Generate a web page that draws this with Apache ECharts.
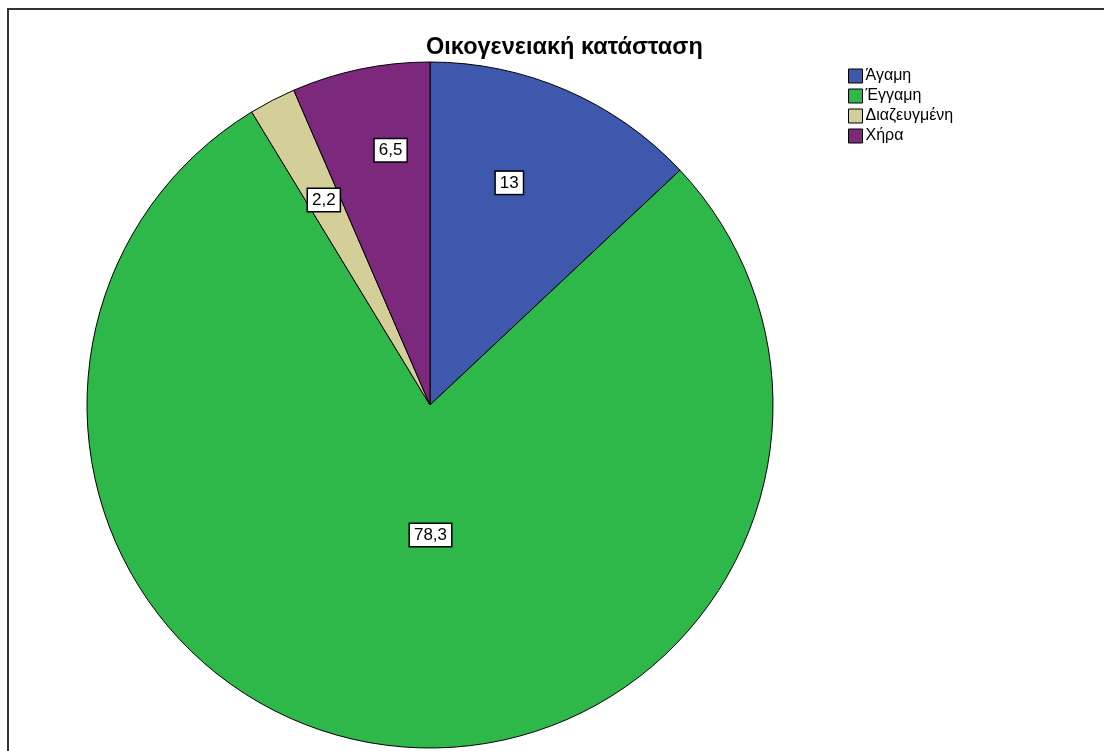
<!DOCTYPE html>
<html>
<head>
<meta charset="utf-8">
<script src="https://cdn.jsdelivr.net/npm/echarts@6/dist/echarts.min.js"></script>
<style>
html,body{margin:0;padding:0;background:#fff;}
#chart{width:1104px;height:751px;}
</style>
</head>
<body>
<div id="chart"></div>
<script>
const titleText = 'Οικογενειακή κατάσταση';
const categories = ['Άγαμη', 'Έγγαμη', 'Διαζευγμένη', 'Χήρα'];
const values = [13, 78.3, 2.2, 6.5];
const colors = ['#3D58AC', '#2EB84A', '#D4CF98', '#7B287D'];
// label offsets from the default inside position (layout only)
const labelOffsets = [[10, -62], [24, -43], [-26, -50], [-4, -84]];

const chart = echarts.init(document.getElementById('chart'), null, {renderer: 'canvas'});
const font = "'Liberation Sans', Arial, sans-serif";
chart.setOption({
  animation: false,
  backgroundColor: '#fff',
  title: {
    text: titleText,
    left: 421,
    top: 31,
    textStyle: {fontFamily: font, fontSize: 23.5, fontWeight: 'bold', color: '#000'}
  },
  legend: {
    orient: 'vertical',
    left: 843,
    top: 63,
    itemWidth: 14,
    itemHeight: 14,
    itemGap: 4,
    icon: 'rect',
    selectedMode: false,
    textStyle: {fontFamily: font, fontSize: 16, color: '#000', padding: [0, 0, 0, -2]},
    itemStyle: {borderColor: '#000', borderWidth: 1},
    data: categories
  },
  graphic: [{
    type: 'rect',
    shape: {x: 8, y: 9, width: 1200, height: 1000},
    style: {fill: 'none', stroke: '#333', lineWidth: 2},
    silent: true
  }],
  series: [{
    type: 'pie',
    center: [430, 405],
    radius: 343,
    startAngle: 90,
    clockwise: true,
    silent: true,
    emphasis: {disabled: true},
    itemStyle: {borderColor: '#000', borderWidth: 1},
    label: {
      show: true,
      position: 'inside',
      formatter: p => String(p.value).replace('.', ','),
      fontFamily: font,
      fontSize: 17,
      color: '#000',
      backgroundColor: '#fff',
      borderColor: '#000',
      borderWidth: 1.5,
      padding: [3, 4, 2, 4]
    },
    labelLine: {show: false},
    labelLayout: p => ({dx: labelOffsets[p.dataIndex][0], dy: labelOffsets[p.dataIndex][1]}),
    data: categories.map((c, i) => ({name: c, value: values[i], itemStyle: {color: colors[i]}}))
  }]
});
</script>
</body>
</html>
